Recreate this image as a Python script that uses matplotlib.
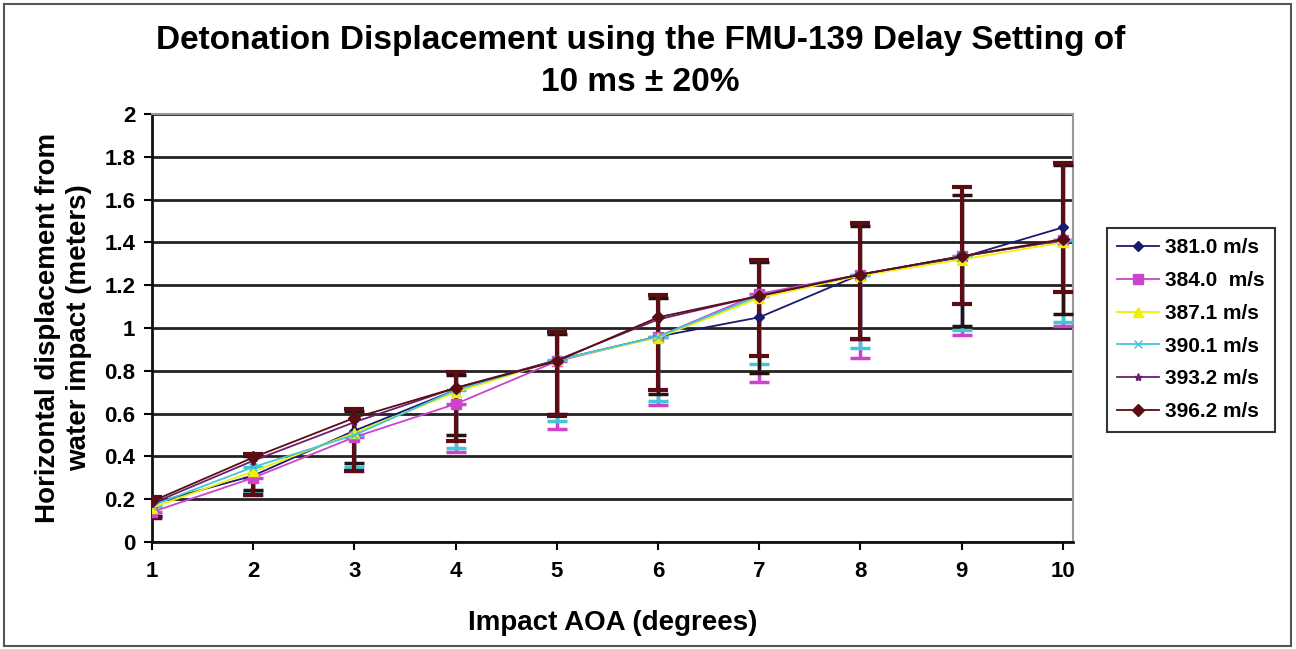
import matplotlib
matplotlib.use("Agg")
import matplotlib.pyplot as plt
from matplotlib.lines import Line2D
from matplotlib.patches import Rectangle

plt.rcParams["font.family"] = ["Liberation Sans", "DejaVu Sans"]
plt.rcParams["font.weight"] = "bold"

# impact angle of attack (degrees)
aoa = [1, 2, 3, 4, 5, 6, 7, 8, 9, 10]

labels = ["381.0 m/s", "384.0  m/s", "387.1 m/s", "390.1 m/s", "393.2 m/s", "396.2 m/s"]

v381 = [0.18, 0.31, 0.52, 0.71, 0.85, 0.96, 1.05, 1.25, 1.33, 1.47]
v384 = [0.14, 0.30, 0.49, 0.645, 0.845, 0.96, 1.16, 1.25, 1.335, 1.41]
v387 = [0.16, 0.33, 0.51, 0.70, 0.85, 0.955, 1.14, 1.245, 1.32, 1.40]
v390 = [0.17, 0.35, 0.50, 0.71, 0.85, 0.96, 1.15, 1.25, 1.335, 1.41]
v393 = [0.18, 0.38, 0.56, 0.72, 0.85, 1.04, 1.15, 1.25, 1.335, 1.41]
v396 = [0.19, 0.395, 0.58, 0.72, 0.845, 1.05, 1.15, 1.25, 1.335, 1.415]

# error bar ends (lower / upper)
lo381 = [0.12, 0.245, 0.37, 0.50, 0.60, 0.69, 0.79, 0.95, 1.01, 1.065]
hi381 = [0.20, 0.40, 0.61, 0.78, 0.97, 1.14, 1.31, 1.475, 1.62, 1.76]
lo384 = [0.11, 0.22, 0.33, 0.42, 0.53, 0.64, 0.75, 0.86, 0.965, 1.01]
lo390 = [0.12, 0.235, 0.35, 0.44, 0.565, 0.66, 0.83, 0.905, 0.99, 1.03]
lo396 = [0.11, 0.22, 0.33, 0.47, 0.59, 0.71, 0.87, 0.95, 1.11, 1.17]
hi396 = [0.21, 0.41, 0.62, 0.795, 0.98, 1.155, 1.32, 1.49, 1.66, 1.77]

colors = ["#1a1a6e", "#cc44cc", "#f0f000", "#40c8d8", "#6a2070", "#5a0d12"]
markers = ["D", "s", "^", "x", "*", "D"]
msizes = [5, 7, 7, 6, 6, 6]
series = [v381, v384, v387, v390, v393, v396]

fig = plt.figure(figsize=(12.96, 6.49), dpi=100)
ax = fig.add_axes([152 / 1296, 1 - 542 / 649, (1073 - 152) / 1296, (542 - 114) / 649])

# error bars first, brown (396.2) last so it sits on top
def bars(vals, lo, hi, color, lw):
    yerr = [[v - l for v, l in zip(vals, lo)], [h - v for v, h in zip(vals, hi)]]
    ax.errorbar(aoa, vals, yerr=yerr, fmt="none", ecolor=color, elinewidth=lw,
                capsize=7, capthick=lw, zorder=3)

bars(v384, lo384, v384, colors[1], 2.5)
bars(v390, lo390, v390, colors[3], 2.5)
bars(v381, lo381, hi381, "#2a1010", 2.5)

for vals, lab, c, m, ms in zip(series, labels, colors, markers, msizes):
    ax.plot(aoa, vals, color=c, lw=1.3, marker=m, ms=ms, mec=c, mfc=c, label=lab, zorder=4)

bars(v396, lo396, hi396, colors[5], 3)

ax.set_xlim(1, 10.1)
ax.set_ylim(0, 2)
ax.set_xticks(aoa)
ax.set_yticks([0, 0.2, 0.4, 0.6, 0.8, 1, 1.2, 1.4, 1.6, 1.8, 2])
ax.set_yticklabels(["0", "0.2", "0.4", "0.6", "0.8", "1", "1.2", "1.4", "1.6", "1.8", "2"])
ax.tick_params(axis="both", labelsize=16, length=6, width=1.5, direction="out", pad=6)
ax.tick_params(axis="x", pad=8)
ax.grid(axis="y", color="#222222", lw=2)
ax.set_axisbelow(True)

for side in ["top", "right"]:
    ax.spines[side].set_color("#999999")
    ax.spines[side].set_linewidth(1.5)
for side in ["left", "bottom"]:
    ax.spines[side].set_color("#111111")
    ax.spines[side].set_linewidth(2)

ax.set_xlabel("Impact AOA (degrees)", fontsize=20, fontweight="bold", labelpad=20)
ax.set_ylabel("Horizontal displacement from\nwater impact (meters)", fontsize=20,
              fontweight="bold", labelpad=9, linespacing=1.25)

fig.text(0.494, 0.937, "Detonation Displacement using the FMU-139 Delay Setting of",
         ha="center", va="center", fontsize=24, fontweight="bold")
fig.text(0.494, 0.873, "10 ms \u00b1 20%", ha="center", va="center", fontsize=24, fontweight="bold")

handles = [Line2D([], [], color=c, lw=1.3, marker=m, ms=ms, mec=c, mfc=c)
           for c, m, ms in zip(colors, markers, msizes)]
leg = fig.legend(handles, labels, loc="upper left", bbox_to_anchor=(1107 / 1296, 1 - 228 / 649),
                 fontsize=15, frameon=True, fancybox=False, handlelength=2.0,
                 labelspacing=0.66, borderpad=0.5, handletextpad=0.3, borderaxespad=0)
leg.get_frame().set_edgecolor("black")
leg.get_frame().set_linewidth(1.5)

fig.patches.append(Rectangle((0.003, 0.004), 0.993, 0.99, transform=fig.transFigure,
                             fill=False, edgecolor="#555555", lw=1.5))

fig.savefig("out.png", dpi=100)
